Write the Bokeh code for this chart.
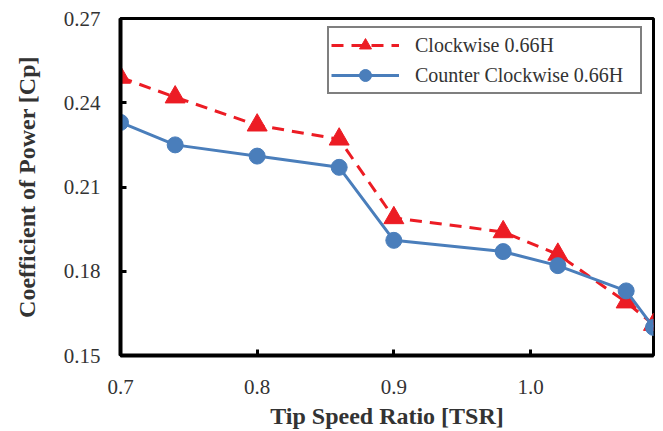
from bokeh.plotting import figure
from bokeh.models import Range1d, FixedTicker, Legend, LegendItem, NumeralTickFormatter
from bokeh.embed import file_html
from bokeh.resources import INLINE

# ---- data ----
tsr = [0.70, 0.74, 0.80, 0.86, 0.90, 0.98, 1.02, 1.07, 1.09]
cp_clockwise = [0.249, 0.242, 0.232, 0.227, 0.199, 0.194, 0.186, 0.169, 0.161]
cp_counter = [0.233, 0.225, 0.221, 0.217, 0.191, 0.187, 0.182, 0.173, 0.160]
x_ticks = [0.7, 0.8, 0.9, 1.0]
y_ticks = [0.15, 0.18, 0.21, 0.24, 0.27]
series_names = ["Clockwise 0.66H", "Counter Clockwise 0.66H"]
x_title = "Tip Speed Ratio [TSR]"
y_title = "Coefficient of Power [Cp]"

X0, X1 = 0.7, 1.09
Y0, Y1 = 0.15, 0.27
W, H = 663, 431
FL, FR, FT, FB = 120, 653, 18, 357

RED = "#EC1C24"
BLUE = "#4A7EBB"
SERIF = "Liberation Serif"
TXT = "#333333"

p = figure(width=W, height=H, output_backend="svg", toolbar_location=None,
           x_range=Range1d(X0, X1), y_range=Range1d(Y0, Y1),
           min_border_left=FL, min_border_right=W - FR, min_border_top=FT,
           min_border_bottom=H - FB)
p.grid.visible = False
p.outline_line_color = "black"
p.outline_line_width = 3
p.background_fill_color = "white"
p.border_fill_color = "white"

for ax in (p.xaxis[0], p.yaxis[0]):
    ax.axis_line_width = 4
    ax.axis_line_color = "black"
    ax.major_tick_line_width = 3
    ax.major_tick_line_color = "black"
    ax.major_tick_in = 6
    ax.major_tick_out = 0
    ax.minor_tick_line_color = None
    ax.major_label_text_font = SERIF
    ax.major_label_text_font_size = "21px"
    ax.major_label_text_color = TXT
    ax.axis_label_text_font = SERIF
    ax.axis_label_text_font_size = "24px"
    ax.axis_label_text_font_style = "bold"
    ax.axis_label_text_color = TXT

p.xaxis.ticker = FixedTicker(ticks=x_ticks)
p.xaxis.formatter = NumeralTickFormatter(format="0.0")
p.xaxis.major_label_standoff = 24
p.xaxis.axis_label = x_title
p.xaxis.axis_label_standoff = 6

p.yaxis.ticker = FixedTicker(ticks=y_ticks)
p.yaxis.formatter = NumeralTickFormatter(format="0.00")
p.yaxis.major_label_standoff = 20
p.yaxis.axis_label = y_title
p.yaxis.axis_label_standoff = 21

r1l = p.line(tsr, cp_clockwise, line_color=RED, line_width=3, line_dash="12 8")
r1m = p.scatter(tsr, cp_clockwise, marker="triangle", size=20, fill_color=RED, line_color=RED)
r2l = p.line(tsr, cp_counter, line_color=BLUE, line_width=3)
r2m = p.scatter(tsr, cp_counter, marker="circle", size=16, fill_color=BLUE, line_color=BLUE)

legend = Legend(items=[LegendItem(label=series_names[0], renderers=[r1l, r1m]),
                       LegendItem(label=series_names[1], renderers=[r2l, r2m])],
                location=(207, 261))
legend.border_line_color = "black"
legend.border_line_width = 2
legend.background_fill_alpha = 1
legend.padding = 2
legend.spacing = -4
legend.glyph_width = 68
legend.glyph_height = 30
legend.label_height = 30
legend.label_width = 223
legend.label_standoff = 16
legend.label_text_font = SERIF
legend.label_text_font_size = "20px"
legend.label_text_color = TXT
legend.margin = 0
p.add_layout(legend)

open("out.html", "w").write(file_html(p, INLINE))
